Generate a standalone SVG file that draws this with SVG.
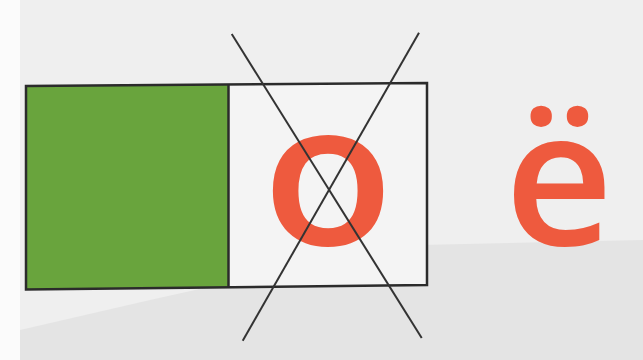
<svg xmlns="http://www.w3.org/2000/svg" width="643" height="360" viewBox="0 0 643 360">
<style>
.frame{fill:none;stroke:#2b2b2b;stroke-width:2.5;stroke-linejoin:miter}
.cross{stroke:#333;stroke-width:2;fill:none}
.letter{font-family:"Open Sans","Noto Sans","DejaVu Sans",sans-serif;font-weight:600;fill:#ee5a3e;text-anchor:middle}
</style>
<rect x="0" y="0" width="643" height="360" fill="#efefef"/>
<rect x="0" y="0" width="20" height="360" fill="#fbfbfb"/>
<path d="M20 330 L20 360 L643 360 L643 240 L420 245 L330 260 L150 300 Z" fill="#e4e4e4"/>
<g id="green-cell">
<polygon points="26,86 228.5,84.5 228.5,287.5 26,289.5" fill="#69a43d"/>
</g>
<g id="white-cell">
<polygon points="228.5,84.5 427,83 427,285 228.5,287.5" fill="#f4f4f4"/>
</g>
<g id="frame">
<polygon class="frame" points="26,86 427,83 427,285 26,289.5"/>
<line class="frame" x1="228.5" y1="84.5" x2="228.5" y2="287.5"/>
</g>
<g id="letter-o">
<text class="letter" x="328" y="245.5" font-size="200" transform="translate(328 0) scale(1.08 1) translate(-328 0)">о</text>
</g>
<g id="letter-yo">
<text class="letter" x="559" y="244.5" font-size="189">ё</text>
</g>
<g id="connectors">
<line class="cross" x1="231.7" y1="34" x2="421.7" y2="338"/>
<line class="cross" x1="419" y1="32.7" x2="242.7" y2="340.7"/>
</g>
</svg>
